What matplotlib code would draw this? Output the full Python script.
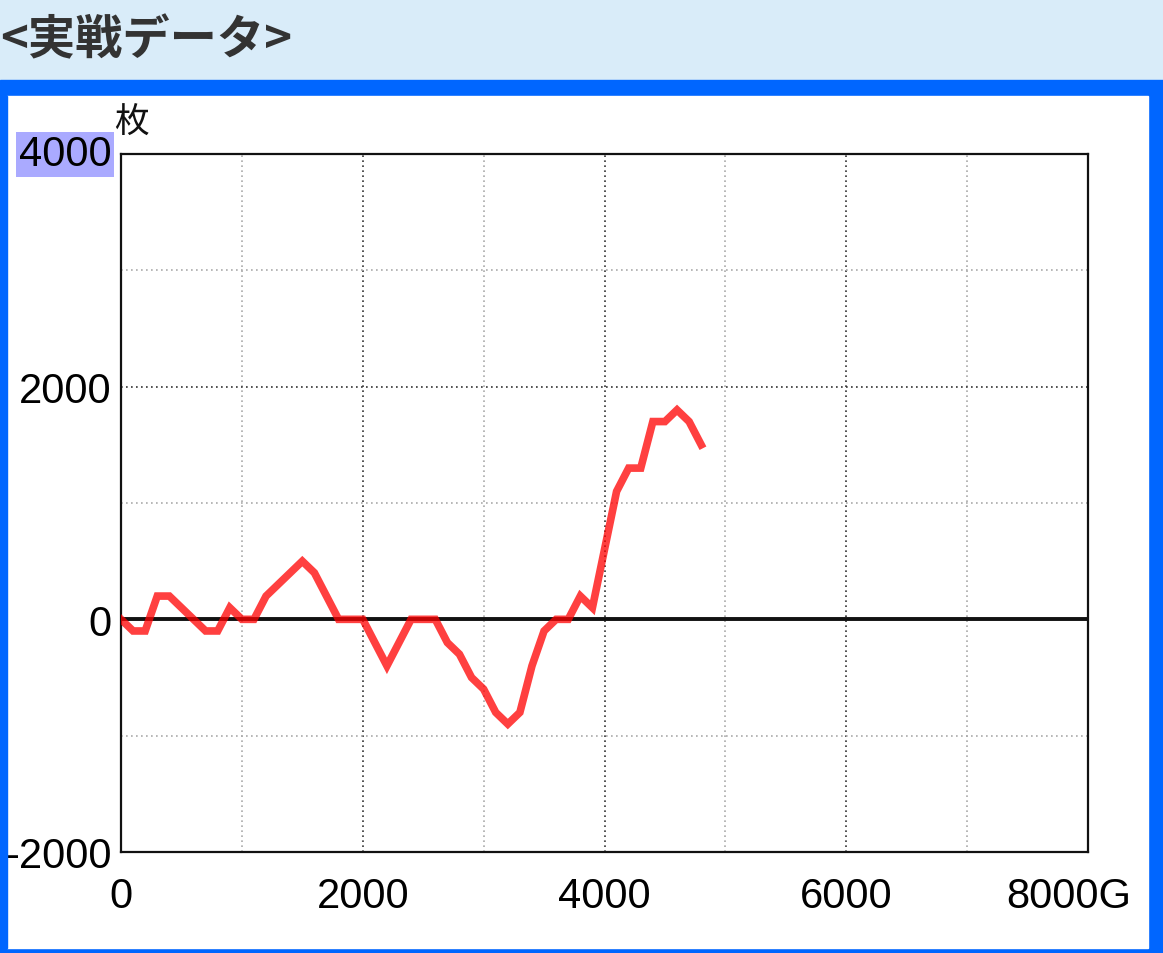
import matplotlib.pyplot as plt
from matplotlib.patches import Rectangle
from matplotlib.transforms import ScaledTranslation

plt.rcParams["font.family"] = ["Noto Sans CJK JP", "DejaVu Sans"]

# game count (G) and coin difference (枚)
games = [0, 100, 200, 300, 400, 500, 600, 700, 800, 900, 1000, 1100, 1200, 1300, 1400,
         1500, 1600, 1700, 1800, 1900, 2000, 2100, 2200, 2300, 2400, 2500, 2600, 2700,
         2800, 2900, 3000, 3100, 3200, 3300, 3400, 3500, 3600, 3700, 3800, 3900, 4000,
         4100, 4200, 4300, 4400, 4500, 4600, 4700, 4800]
coins = [0, -100, -100, 200, 200, 100, 0, -100, -100, 100, 0, 0, 200, 300, 400,
         500, 400, 200, 0, 0, 0, -200, -400, -200, 0, 0, 0, -200,
         -300, -500, -600, -800, -900, -800, -400, -100, 0, 0, 200, 100, 600,
         1100, 1300, 1300, 1700, 1700, 1800, 1700, 1500]

x_major = [0, 2000, 4000, 6000, 8000]
x_labels = ["0", "2000", "4000", "6000", "8000G"]
x_minor = [1000, 3000, 5000, 7000]
y_major = [-2000, 0, 2000, 4000]
y_labels = ["-2000", "0", "2000", "4000"]
y_minor = [-1000, 1000, 3000]

W, H = 1163, 954
fig = plt.figure(figsize=(W / 100, H / 100), dpi=100)


def px_rect(x0, y0, x1, y1, color, z=-5):
    # rectangle given in pixel coords from the top-left corner
    r = Rectangle((x0 / W, 1 - y1 / H), (x1 - x0) / W, (y1 - y0) / H,
                  transform=fig.transFigure, color=color, zorder=z)
    fig.patches.append(r)


px_rect(0, 0, W, 81, "#d9ecf9")
px_rect(0, 81, W, H, "#0066ff")
px_rect(7, 97, 1148, 949, "#ffffff")
# left border strip drawn on top so the "-" of -2000 is partly hidden, as in the page
px_rect(0, 97, 7, 949, "#0066ff", z=10)

fig.text(0, 1 - 40 / H, "<実戦データ>", fontsize=34, fontweight="bold",
         color="#333333", ha="left", va="center")

ax = fig.add_axes([121 / W, 1 - 853 / H, (1088 - 121) / W, (853 - 155) / H])
ax.set_xlim(0, 8000)
ax.set_ylim(-2000, 4000)

tick_font = dict(family=["Liberation Sans", "DejaVu Sans"], size=30)
ax.set_xticks(x_major)
ax.set_xticklabels(x_labels, fontdict=tick_font)
ax.set_xticks(x_minor, minor=True)
ax.set_yticks(y_major)
ax.set_yticklabels(y_labels, fontdict=tick_font)
ax.set_yticks(y_minor, minor=True)
ax.tick_params(which="both", length=0)
ax.tick_params(axis="x", pad=17)
ax.tick_params(axis="y", pad=7)

ax.grid(which="major", color="#333333", linestyle=(0, (1, 2)), linewidth=1.2)
ax.grid(which="minor", color="#aaaaaa", linestyle=(0, (1, 2)), linewidth=1.2)
ax.set_axisbelow(True)

for s in ax.spines.values():
    s.set_linewidth(1.6)
    s.set_color("#111111")

ax.axhline(0, color="#111111", linewidth=2.8, zorder=2)
ax.plot(games, coins, color="#ff0000", alpha=0.75, linewidth=5.5,
        solid_joinstyle="miter", zorder=3)

# highlighted top label and shifted "8000G"
top_lab = ax.get_yticklabels()[-1]
top_lab.set_bbox(dict(facecolor="#aaaaff", edgecolor="none", pad=2))
top_lab.set_transform(top_lab.get_transform() + ScaledTranslation(0, 0.04, fig.dpi_scale_trans))
last_x = ax.get_xticklabels()[-1]
last_x.set_transform(last_x.get_transform() + ScaledTranslation(-0.19, 0, fig.dpi_scale_trans))

fig.text(131 / W, 1 - 123 / H, "枚", fontsize=25, ha="center", va="center", color="#111111")

fig.savefig("out.png", dpi=100)
